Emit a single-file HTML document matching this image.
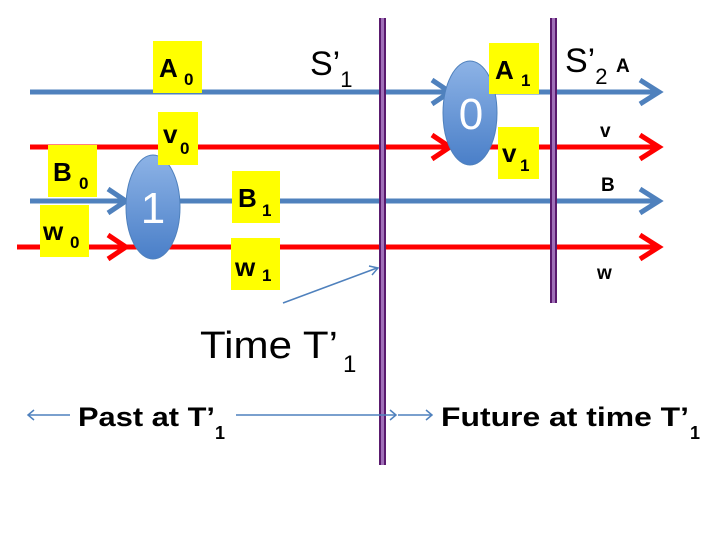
<!DOCTYPE html>
<html><head><meta charset="utf-8"><style>
html,body{margin:0;padding:0;background:#fff;width:720px;height:540px;overflow:hidden}
svg{display:block;font-family:"Liberation Sans",sans-serif}
.lb{font-weight:bold;font-size:26px;fill:#000}
.sb{font-weight:bold;font-size:17px;fill:#000}
.nm{font-weight:bold;font-size:19px;fill:#000}
</style></head><body>
<svg width="720" height="540" viewBox="0 0 720 540">
<g>
<line x1="30" y1="92" x2="655" y2="92" stroke="#4f81bd" stroke-width="5"/>
<polyline points="432,80 450,92 432,104" fill="none" stroke="#4f81bd" stroke-width="5"/>
<polyline points="640,80 659,92 640,104" fill="none" stroke="#4f81bd" stroke-width="5"/>
</g>
<g>
<line x1="30" y1="147" x2="655" y2="147" stroke="#ff0000" stroke-width="5"/>
<polyline points="432,135 450,147 432,159" fill="none" stroke="#ff0000" stroke-width="5"/>
<polyline points="640,135 659,147 640,159" fill="none" stroke="#ff0000" stroke-width="5"/>
</g>
<g>
<line x1="30" y1="201" x2="655" y2="201" stroke="#4f81bd" stroke-width="5"/>
<polyline points="108,189 126,201 108,213" fill="none" stroke="#4f81bd" stroke-width="5"/>
<polyline points="640,189 659,201 640,213" fill="none" stroke="#4f81bd" stroke-width="5"/>
</g>
<g>
<line x1="17" y1="247" x2="655" y2="247" stroke="#ff0000" stroke-width="5"/>
<polyline points="108,235 126,247 108,259" fill="none" stroke="#ff0000" stroke-width="5"/>
<polyline points="640,235 659,247 640,259" fill="none" stroke="#ff0000" stroke-width="5"/>
</g>
<defs><linearGradient id="eg" x1="0" y1="0" x2="0" y2="1"><stop offset="0" stop-color="#8db3e6"/><stop offset="1" stop-color="#4a7fc8"/></linearGradient></defs>
<g>
<ellipse cx="153" cy="207" rx="27" ry="52" fill="url(#eg)" stroke="#4f81bd"/>
<text x="153" y="223" font-size="44" fill="#fff" text-anchor="middle">1</text>
</g>
<g>
<ellipse cx="470" cy="113" rx="27" ry="52" fill="url(#eg)" stroke="#4f81bd"/>
<text x="471" y="129" font-size="44" fill="#fff" text-anchor="middle">0</text>
</g>
<g>
<line x1="380" y1="18" x2="380" y2="465" stroke="#5a1a6e" stroke-width="2"/>
<line x1="385" y1="18" x2="385" y2="465" stroke="#5a1a6e" stroke-width="2"/>
<line x1="382.5" y1="18" x2="382.5" y2="465" stroke="#a070b8" stroke-width="3"/>
</g>
<g>
<line x1="551" y1="18" x2="551" y2="303" stroke="#5a1a6e" stroke-width="2"/>
<line x1="556" y1="18" x2="556" y2="303" stroke="#5a1a6e" stroke-width="2"/>
<line x1="553.5" y1="18" x2="553.5" y2="303" stroke="#a070b8" stroke-width="3"/>
</g>
<g><rect x="153" y="41" width="49" height="52" fill="#ffff00"/><text x="159" y="77" class="lb">A</text><text x="184" y="85" class="sb">0</text></g>
<g><rect x="158" y="112" width="40" height="53" fill="#ffff00"/><text x="163" y="143" class="lb">v</text><text x="180" y="154" class="sb">0</text></g>
<g><rect x="48" y="145" width="49" height="52" fill="#ffff00"/><text x="53" y="181" class="lb">B</text><text x="79" y="189" class="sb">0</text></g>
<g><rect x="40" y="205" width="49" height="52" fill="#ffff00"/><text x="43" y="240" class="lb">w</text><text x="70" y="248" class="sb">0</text></g>
<g><rect x="232" y="171" width="48" height="52" fill="#ffff00"/><text x="238" y="207" class="lb">B</text><text x="262" y="216" class="sb">1</text></g>
<g><rect x="231" y="238" width="49" height="52" fill="#ffff00"/><text x="235" y="276" class="lb">w</text><text x="262" y="281" class="sb">1</text></g>
<g><rect x="489" y="43" width="50" height="51" fill="#ffff00"/><text x="495" y="79" class="lb">A</text><text x="521" y="86" class="sb">1</text></g>
<g><rect x="498" y="127" width="41" height="52" fill="#ffff00"/><text x="502" y="162" class="lb">v</text><text x="520" y="171" class="sb">1</text></g>
<text x="310" y="75" font-size="34" fill="#000">S’<tspan font-size="22" dy="12">1</tspan></text>
<text x="565" y="72" font-size="34" fill="#000">S’<tspan font-size="22" dy="12">2</tspan></text>
<text x="616" y="72" class="nm">A</text>
<text x="600" y="137" class="nm">v</text>
<text x="601" y="191" class="nm">B</text>
<text x="597" y="279" class="nm">w</text>
<line x1="283" y1="303" x2="377" y2="268" stroke="#4f81bd" stroke-width="1.5"/>
<polyline points="369,266 378,268 372,275" fill="none" stroke="#4f81bd" stroke-width="1.5"/>
<text x="200" y="358" font-size="38" fill="#000" textLength="138" lengthAdjust="spacingAndGlyphs">Time T’</text>
<text x="343" y="372" font-size="24" fill="#000">1</text>
<g stroke="#4f81bd" stroke-width="1.5" fill="none">
<line x1="28" y1="415" x2="70" y2="415"/><polyline points="34,410 28,415 34,420"/>
<line x1="236" y1="415" x2="396" y2="415"/><polyline points="390,410 396,415 390,420"/>
<line x1="398" y1="415" x2="432" y2="415"/><polyline points="426,410 432,415 426,420"/>
</g>
<text x="78" y="426" font-size="27" font-weight="bold" fill="#000" textLength="137" lengthAdjust="spacingAndGlyphs">Past at T’</text>
<text x="215" y="439" font-size="18" font-weight="bold" fill="#000">1</text>
<text x="441" y="426" font-size="27" font-weight="bold" fill="#000" textLength="248" lengthAdjust="spacingAndGlyphs">Future at time T’</text>
<text x="690" y="439" font-size="18" font-weight="bold" fill="#000">1</text>
</svg>
</body></html>
